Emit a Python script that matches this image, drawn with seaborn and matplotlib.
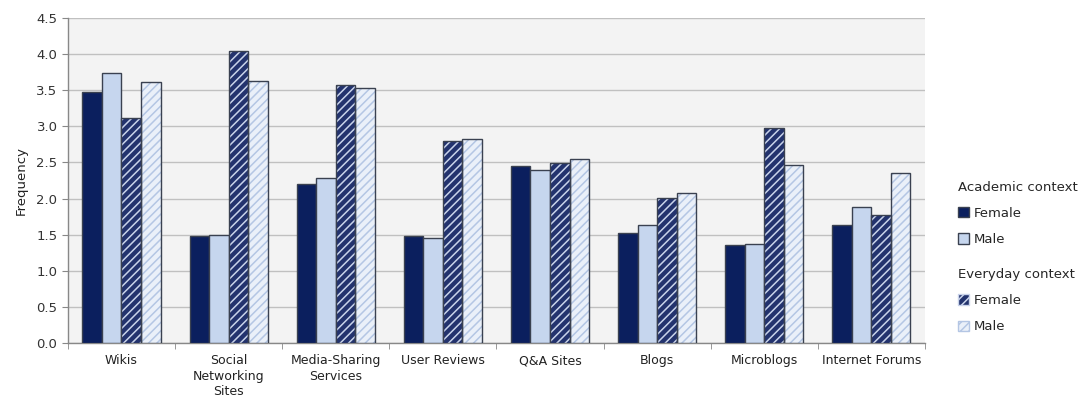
import numpy as np
import pandas as pd
import matplotlib
matplotlib.use("Agg")
import matplotlib.pyplot as plt
import seaborn as sns
from matplotlib.patches import Patch, Rectangle

# Data
categories = ['Wikis', 'Social\nNetworking\nSites', 'Media-Sharing\nServices', 'User Reviews',
              'Q&A Sites', 'Blogs', 'Microblogs', 'Internet Forums']
academic_female = [3.47, 1.48, 2.20, 1.48, 2.45, 1.52, 1.36, 1.63]
academic_male = [3.74, 1.50, 2.29, 1.45, 2.40, 1.64, 1.37, 1.88]
everyday_female = [3.11, 4.04, 3.58, 2.80, 2.49, 2.01, 2.98, 1.77]
everyday_male = [3.62, 3.63, 3.53, 2.82, 2.55, 2.08, 2.47, 2.35]

series = ['Academic Female', 'Academic Male', 'Everyday Female', 'Everyday Male']
values = [academic_female, academic_male, everyday_female, everyday_male]

rows = []
for s, vals in zip(series, values):
    for c, v in zip(categories, vals):
        rows.append({'Site': c, 'Group': s, 'Frequency': v})
df = pd.DataFrame(rows)

face = {'Academic Female': '#0b1f5e', 'Academic Male': '#c6d6ee',
        'Everyday Female': '#23336e', 'Everyday Male': '#eaf0f9'}
stripe = {'Everyday Female': '#c9d3ea', 'Everyday Male': '#b4c6e4'}
edge = '#3a4150'

sns.set_style('white')
plt.rcParams['font.family'] = ['DejaVu Sans']
plt.rcParams['hatch.linewidth'] = 1.1

fig = plt.figure(figsize=(10.78, 4.03), dpi=100)
ax = fig.add_axes([0.063, 0.149, 0.795, 0.806])
ax.set_facecolor('#f3f3f3')

sns.barplot(data=df, x='Site', y='Frequency', hue='Group', hue_order=series,
            palette=[face[s] for s in series], width=0.73, gap=0,
            edgecolor=edge, linewidth=1.0, saturation=1, legend=False, ax=ax, zorder=3)

# striped look for the everyday-context bars
for s, cont in zip(series, ax.containers):
    for bar in cont:
        if s in stripe:
            bar.set_hatch('////')
            bar.set_edgecolor(stripe[s])
            bar.set_linewidth(0)
            ax.add_patch(Rectangle(bar.get_xy(), bar.get_width(), bar.get_height(),
                                   fill=False, edgecolor=edge, linewidth=1.0, zorder=4))

ax.set_ylim(0, 4.5)
ax.set_yticks(np.arange(0, 4.51, 0.5))
ax.set_yticklabels([f'{t:.1f}' for t in np.arange(0, 4.51, 0.5)], fontsize=9.5, color='#333333')
ax.set_xlim(-0.5, len(categories) - 0.5)
ax.set_xticks(range(len(categories)))
ax.set_xticklabels(categories, fontsize=9, color='#222222', linespacing=1.25)
ax.set_xticks(np.arange(-0.5, len(categories), 1), minor=True)
ax.tick_params(axis='x', which='major', length=0, pad=8)
ax.tick_params(axis='x', which='minor', length=4, color='#888888', direction='out', bottom=True)
ax.tick_params(axis='y', length=4, color='#888888', direction='out', left=True)
ax.yaxis.grid(True, color='#c0c0c0', linewidth=1.0, zorder=0)
ax.set_axisbelow(True)
for side in ['top', 'right']:
    ax.spines[side].set_visible(False)
for side in ['left', 'bottom']:
    ax.spines[side].set_color('#888888')
    ax.spines[side].set_linewidth(1.0)
ax.set_xlabel('')
ax.set_ylabel('Frequency', fontsize=9.5, color='#222222', labelpad=6)

# Legends
h1 = [Patch(facecolor=face['Academic Female'], edgecolor=edge, label='Female'),
      Patch(facecolor=face['Academic Male'], edgecolor=edge, label='Male')]
h2 = [Patch(facecolor=face['Everyday Female'], edgecolor=stripe['Everyday Female'], hatch='////', label='Female'),
      Patch(facecolor=face['Everyday Male'], edgecolor=stripe['Everyday Male'], hatch='////', label='Male')]
leg_kw = dict(frameon=False, fontsize=9.5, title_fontsize=9.5, handlelength=0.85, handleheight=0.85,
              handletextpad=0.3, labelspacing=1.0, alignment='left', borderaxespad=0)
leg1 = fig.legend(handles=h1, title='Academic context', loc='upper left',
                  bbox_to_anchor=(0.884, 0.565), **leg_kw)
leg2 = fig.legend(handles=h2, title='Everyday context', loc='upper left',
                  bbox_to_anchor=(0.884, 0.348), **leg_kw)

fig.savefig('out.png', dpi=100)
